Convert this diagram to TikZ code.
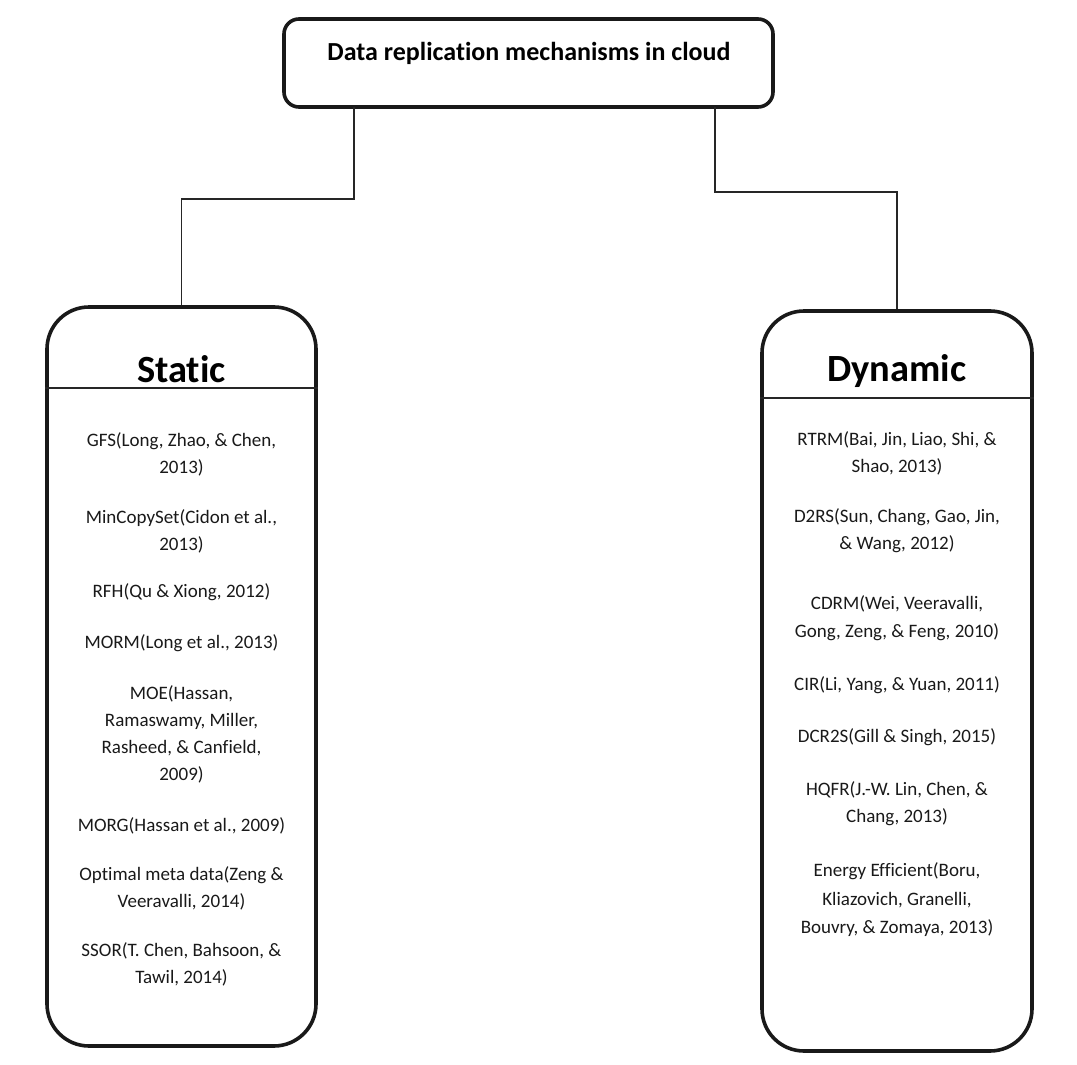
\documentclass[tikz,border=0pt]{standalone}
\usepackage{fontspec}
\setmainfont{Carlito}[RawFeature={-liga;-clig;-calt;-dlig}]
\usetikzlibrary{positioning}

\begin{document}
\begin{tikzpicture}[x=1pt, y=-1pt,
  rootbox/.style={draw=black!90, line width=3.6pt, rounded corners=15pt, minimum width=489pt, minimum height=88pt},
  catbox/.style={draw=black!90, line width=3.6pt, rounded corners=42pt, minimum width=269pt, minimum height=739pt},
  ttl/.style={font=\fontsize{26}{31}\selectfont\bfseries},
  hd/.style={font=\fontsize{38.5}{46}\selectfont\bfseries},
  ref/.style={align=center, font=\fontsize{19}{27}\selectfont, text=black!90},
  link/.style={draw=black!85, line width=1.3pt},
  sep/.style={draw=black!85, line width=1.5pt}
]
\useasboundingbox (0,0) rectangle (1077,1065);

% --- root ---
\node[rootbox] (root) at (528.5,63) {};
\node[ttl] (root_t) at (529,53) {Data replication mechanisms in cloud};
\coordinate (rootL) at (354,107);
\coordinate (rootR) at (715,107);

% --- Static ---
\node[catbox] (sta) at (181.5,676.5) {};
\node[hd] (sta_h) at (181.5,369) {Static};
\draw[sep] (sta.west |- 0,388) -- (sta.east |- 0,388);
\node[ref] (s1) at (181.5,454.5) {GFS(Long, Zhao, \& Chen,\\2013)};
\node[ref] (s2) at (181.5,531.5) {MinCopySet(Cidon et al.,\\2013)};
\node[ref] (s3) at (181.5,592.5) {RFH(Qu \& Xiong, 2012)};
\node[ref] (s4) at (181.5,643.5) {MORM(Long et al., 2013)};
\node[ref] (s5) at (181.5,734.5) {MOE(Hassan,\\Ramaswamy, Miller,\\Rasheed, \& Canfield,\\2009)};
\node[ref] (s6) at (181.5,825.5) {MORG(Hassan et al., 2009)};
\node[ref] (s7) at (181.5,888.5) {Optimal meta data(Zeng \&\\Veeravalli, 2014)};
\node[ref] (s8) at (181.5,964.5) {SSOR(T. Chen, Bahsoon, \&\\Tawil, 2014)};

% --- Dynamic ---
\node[catbox, minimum width=270pt, minimum height=740pt] (dyn) at (897,681) {};
\node[hd] (dyn_h) at (897,371) {Dynamic};
\draw[sep] (dyn.west |- 0,398) -- (dyn.east |- 0,398);
\node[ref] (d1) at (897,453.5) {RTRM(Bai, Jin, Liao, Shi, \&\\Shao, 2013)};
\node[ref] (d2) at (897,530.5) {D2RS(Sun, Chang, Gao, Jin,\\\& Wang, 2012)};
\node[ref, text depth=0pt] (d3) at (897,616.5) {CDRM(Wei, Veeravalli,\\[1.5pt]Gong, Zeng, \& Feng, 2010)};
\node[ref] (d4) at (897,685) {CIR(Li, Yang, \& Yuan, 2011)};
\node[ref] (d5) at (897,737) {DCR2S(Gill \& Singh, 2015)};
\node[ref] (d6) at (897,803.5) {HQFR(J.-W. Lin, Chen, \&\\Chang, 2013)};
\node[ref] (d7) at (897,900) {Energy Efficient(Boru,\\[1.5pt]Kliazovich, Granelli,\\[1.5pt]Bouvry, \& Zomaya, 2013)};

% connectors
\draw[link] (rootL) -- ++(0,92) -| (sta.north);
\draw[link] (rootR) -- ++(0,85) -| (dyn.north);
\end{tikzpicture}
\end{document}
